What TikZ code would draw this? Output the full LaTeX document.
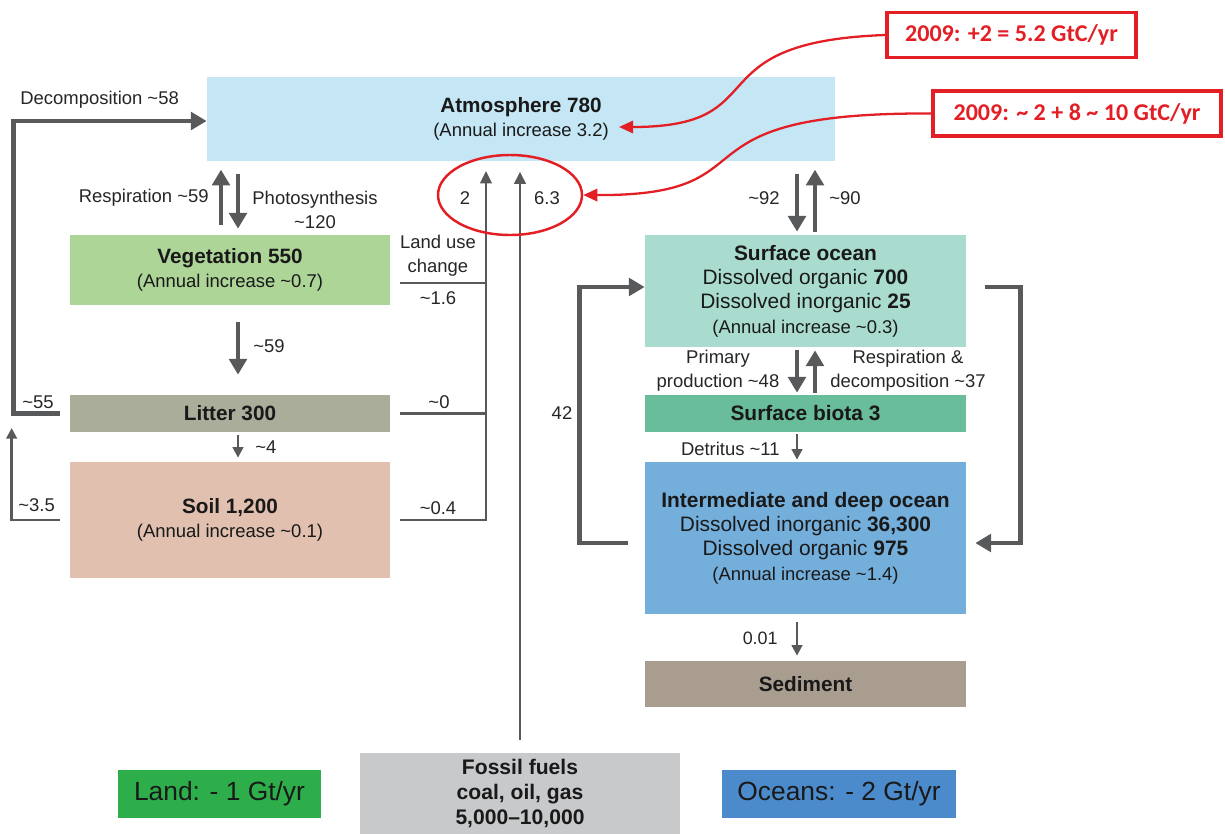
\documentclass[tikz,border=0pt]{standalone}
\usepackage{fontspec}
\setmainfont{Liberation Sans}
\newfontfamily\calloutfont{Carlito}
\usetikzlibrary{arrows.meta, shapes.geometric, positioning, calc}

\definecolor{atmblue}{HTML}{C5E6F5}
\definecolor{veggreen}{HTML}{AED598}
\definecolor{littergray}{HTML}{A9AD9A}
\definecolor{soilpink}{HTML}{E2C0B0}
\definecolor{surfteal}{HTML}{A9DCCF}
\definecolor{biotagreen}{HTML}{6ABD9A}
\definecolor{deepblue}{HTML}{74AEDB}
\definecolor{sedbrown}{HTML}{A99D90}
\definecolor{fossilgray}{HTML}{C8C9CB}
\definecolor{landgreen}{HTML}{2EAE4A}
\definecolor{oceanblue}{HTML}{4B8BCB}
\definecolor{hintred}{HTML}{E31E24}
\definecolor{flowgray}{HTML}{58595B}

\newcommand{\apx}{\textasciitilde}
\newcommand{\boxtitle}[1]{{\fontsize{11.8}{13.8}\selectfont\bfseries #1}}
\newcommand{\boxnote}[1]{{\fontsize{10.5}{13.8}\selectfont #1}}

\begin{document}
\begin{tikzpicture}[
    box/.style={inner sep=0pt, align=center, text=black!90, font=\fontsize{10.5}{13.8}\selectfont},
    oceanbox/.style={box, minimum width=6.42cm, font=\fontsize{11.9}{13.8}\selectfont},
    flowlbl/.style={inner sep=0pt, align=center, text=black!85, font=\fontsize{10.5}{13.8}\selectfont},
    flow/.style={draw=flowgray, line width=2.8pt, -{Triangle[width=10pt,length=9pt]}},
    thinflow/.style={draw=flowgray, line width=1.4pt, -{Triangle[width=6pt,length=6pt]}},
    landline/.style={draw=flowgray, line width=1.6pt},
    landflow/.style={landline, -{Triangle[width=6.5pt,length=7pt]}},
    callout/.style={draw=hintred, line width=2pt, fill=white, minimum height=0.9cm, inner sep=0pt,
        text=hintred, font=\calloutfont\fontsize{13.7}{16}\selectfont\bfseries},
    hint/.style={draw=hintred, line width=1.3pt, -{Triangle[width=7pt,length=8pt]}},
    legend/.style={inner sep=0pt, minimum height=0.96cm, text=black!90, font=\fontsize{15}{18}\selectfont}
]
    \useasboundingbox (0,0) rectangle (24.5,-16.68);

    % Atmosphere
    \node[box, fill=atmblue, minimum width=12.56cm, minimum height=1.68cm] (atm) at (10.42,-2.38)
        {\boxtitle{Atmosphere 780}\\(Annual increase 3.2)};

    % Land reservoirs
    \node[box, fill=veggreen, minimum width=6.4cm, minimum height=1.4cm] (veg) at (4.6,-5.4)
        {\boxtitle{Vegetation 550}\\(Annual increase \apx0.7)};
    \node[box, fill=littergray, minimum width=6.4cm, minimum height=0.74cm] (litter) at (4.6,-8.27)
        {\boxtitle{Litter 300}};
    \node[box, fill=soilpink, minimum width=6.4cm, minimum height=2.32cm] (soil) at (4.6,-10.4)
        {\boxtitle{Soil 1,200}\\(Annual increase \apx0.1)};

    % Ocean reservoirs
    \node[oceanbox, fill=surfteal, minimum height=2.24cm] (ocean) at (16.11,-5.82)
        {\textbf{Surface ocean}\\Dissolved organic \textbf{700}\\Dissolved inorganic \textbf{25}\\\boxnote{(Annual increase \apx0.3)}};
    \node[oceanbox, fill=biotagreen, minimum height=0.74cm] (biota) at (16.11,-8.27)
        {\textbf{Surface biota 3}};
    \node[oceanbox, fill=deepblue, minimum height=3.04cm] (deep) at (16.11,-10.76)
        {\textbf{Intermediate and deep ocean}\\Dissolved inorganic \textbf{36,300}\\Dissolved organic \textbf{975}\\\boxnote{(Annual increase \apx1.4)}};
    \node[box, fill=sedbrown, minimum width=6.42cm, minimum height=0.92cm] (sed) at (16.11,-13.68)
        {\boxtitle{Sediment}};

    % Fossil fuels and legend boxes
    \node[box, fill=fossilgray, minimum width=6.4cm, minimum height=1.62cm,
        font=\fontsize{12}{14}\selectfont\bfseries] (fossil) at (10.4,-15.87)
        {Fossil fuels\\coal, oil, gas\\5,000--10,000};
    \node[legend, fill=landgreen, minimum width=4.06cm] (landsink) at (4.39,-15.88) {Land: - 1 Gt/yr};
    \node[legend, fill=oceanblue, minimum width=4.68cm] (oceansink) at (16.78,-15.88) {Oceans: - 2 Gt/yr};

    % Land fluxes
    \draw[flow] ([xshift=-2mm]litter.west) -- ++(-0.92,0) |- ([yshift=-0.4mm]atm.west);
    \node[flowlbl, anchor=west] (lblDecomp) at (0.4,-2.0) {Decomposition \apx58};
    \node[flowlbl, anchor=west] (lbl55) at (0.44,-8.04) {\apx55};
    \draw[thinflow] ([xshift=-2mm]soil.west) -- ++(-0.96,0) -- ++(0,1.84);
    \node[flowlbl, anchor=west] (lbl35) at (0.36,-10.1) {\apx3.5};

    \draw[flow] ([xshift=-1.8mm,yshift=2mm]veg.north) -- ++(0,1.1);
    \draw[flow] ([xshift=1.6mm,yshift=12.2mm]veg.north) -- ++(0,-1.1);
    \node[flowlbl, anchor=east] (lblResp) at (4.18,-3.96) {Respiration \apx59};
    \node[flowlbl] (lblPhoto) at (6.3,-4.2) {Photosynthesis\\\apx120};

    \draw[flow] ([xshift=1.6mm,yshift=-3.4mm]veg.south) -- ([xshift=1.6mm,yshift=4mm]litter.north);
    \node[flowlbl, anchor=west] (lbl59) at (5.06,-6.92) {\apx59};
    \draw[thinflow] ([xshift=1.6mm,yshift=-0.6mm]litter.south) -- ([xshift=1.6mm,yshift=0.8mm]soil.north);
    \node[flowlbl, anchor=west] (lbl4) at (5.1,-8.94) {\apx4};

    % Land use change and fossil emissions
    \coordinate (luTop) at (9.72,-3.42);
    \draw[landflow] ([xshift=2mm]soil.east) -| (luTop);
    \draw[landline] ([xshift=2mm,yshift=-2.6mm]veg.east) -- ++(1.72,0);
    \draw[landline] ([xshift=2mm]litter.east) -- ++(1.72,0);
    \node[flowlbl] (lblLand) at (8.76,-5.12) {Land use\\change};
    \node[flowlbl] (lbl16) at (8.76,-5.96) {\apx1.6};
    \node[flowlbl] (lbl0) at (8.78,-8.04) {\apx0};
    \node[flowlbl] (lbl04) at (8.76,-10.16) {\apx0.4};
    \draw[landflow] ([yshift=2.6mm]fossil.north) -- ++(0,11.36);
    \node[flowlbl] (lbl2) at (9.3,-3.96) {2};
    \node[flowlbl] (lbl63) at (10.94,-3.96) {6.3};

    % Ocean fluxes
    \draw[flow] ([xshift=-1.7mm,yshift=12.2mm]ocean.north) -- ([xshift=-1.7mm,yshift=0.6mm]ocean.north);
    \draw[flow] ([xshift=1.9mm,yshift=0.6mm]ocean.north) -- ([xshift=1.9mm,yshift=13mm]ocean.north);
    \node[flowlbl, anchor=east] (lbl92) at (15.6,-3.96) {\apx92};
    \node[flowlbl, anchor=west] (lbl90) at (16.58,-3.96) {\apx90};

    \draw[flow] ([xshift=-1.7mm,yshift=-0.6mm]ocean.south) -- ([xshift=-1.7mm,yshift=0.4mm]biota.north);
    \draw[flow] ([xshift=1.9mm,yshift=0.4mm]biota.north) -- ([xshift=1.9mm,yshift=-0.6mm]ocean.south);
    \node[flowlbl] (lblPrim) at (14.36,-7.42) {Primary\\production \apx48};
    \node[flowlbl] (lblResp2) at (18.16,-7.42) {Respiration \&\\decomposition \apx37};

    \draw[thinflow] ([xshift=-1.7mm,yshift=-0.4mm]biota.south) -- ([xshift=-1.7mm,yshift=0.4mm]deep.north);
    \node[flowlbl, anchor=east] (lblDet) at (15.6,-8.98) {Detritus \apx11};
    \draw[thinflow] ([xshift=-1.7mm,yshift=-1.6mm]deep.south) -- ([xshift=-1.7mm,yshift=1mm]sed.north);
    \node[flowlbl, anchor=east, font=\fontsize{10.2}{12}\selectfont] (lbl001) at (15.56,-12.76) {0.01};

    \draw[flow] ([xshift=-3.4mm,yshift=-1mm]deep.west) -- ++(-0.96,0) |- ([yshift=0.8mm]ocean.west);
    \node[flowlbl] (lbl42) at (11.24,-8.26) {42};
    \draw[flow] ([xshift=3.8mm,yshift=0.8mm]ocean.east) -- ++(0.7,0) |- ([xshift=1.8mm,yshift=-1mm]deep.east);

    % 2009 annotations
    \node[callout, minimum width=4.98cm] (red1) at (20.23,-0.7) {2009: +2 = 5.2 GtC/yr};
    \node[callout, minimum width=5.76cm] (red2) at (21.54,-2.27) {2009: \apx{} 2 + 8 \apx{} 10 GtC/yr};
    \node[draw=hintred, line width=1.4pt, ellipse, minimum width=2.88cm, minimum height=1.6cm] (ring) at (10.2,-3.9) {};
    \coordinate (incr) at (12.38,-2.54);
    \draw[hint] (red1.west) .. controls (13.8,-0.84) and (15.6,-2.54) .. (incr);
    \draw[hint] (red2.west) .. controls (13.2,-2.24) and (15.6,-3.92) .. (ring.east);
\end{tikzpicture}
\end{document}
